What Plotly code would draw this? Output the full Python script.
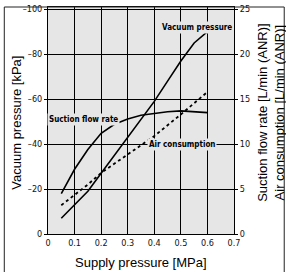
import plotly.graph_objects as go

# Data
supply_pressure = [0.05, 0.10, 0.15, 0.20, 0.25, 0.30, 0.35, 0.40, 0.45, 0.50, 0.55, 0.60]
vacuum_pressure = [-7, -13, -19, -27, -35, -43, -51, -59, -68, -77, -85, -90]
suction_flow = [4.5, 7.2, 9.4, 11.2, 12.2, 12.8, 13.2, 13.4, 13.6, 13.7, 13.6, 13.5]
air_supply = [0.05, 0.10, 0.15, 0.20, 0.30, 0.40, 0.50, 0.60]
air_consumption = [3.2, 4.3, 5.5, 6.8, 8.8, 10.9, 13.3, 15.8]

x_ticks = [0, 0.1, 0.2, 0.3, 0.4, 0.5, 0.6, 0.7]
x_ticklabels = ["0", "0.1", "0.2", "0.3", "0.4", "0.5", "0.6", "0.7"]
y_ticks = [0, -20, -40, -60, -80, -100]
y_ticklabels = ["0", "–20", "–40", "–60", "–80", "–100"]
y2_ticks = [0, 5, 10, 15, 20, 25]

NARROW = "Liberation Sans Narrow, DejaVu Sans Condensed, Arial Narrow, sans-serif"
REGULAR = "Liberation Sans, Arial, sans-serif"
PLOT_BG = "#e6e6e6"

fig = go.Figure()
fig.add_trace(go.Scatter(x=supply_pressure, y=vacuum_pressure, mode="lines",
                         line=dict(color="black", width=1.6), yaxis="y",
                         name="Vacuum pressure", showlegend=False))
fig.add_trace(go.Scatter(x=supply_pressure, y=suction_flow, mode="lines",
                         line=dict(color="black", width=1.6), yaxis="y2",
                         name="Suction flow rate", showlegend=False))
fig.add_trace(go.Scatter(x=air_supply, y=air_consumption, mode="lines",
                         line=dict(color="black", width=1.8, dash="dot"), yaxis="y2",
                         name="Air consumption", showlegend=False))

TICKFONT = dict(family=NARROW, size=9, color="#111")

fig.update_layout(
    width=286, height=272, autosize=False,
    margin=dict(l=48, r=52, t=4, b=38, pad=0),
    paper_bgcolor="white", plot_bgcolor=PLOT_BG,
    font=dict(family=NARROW, size=9, color="#111"),
    xaxis=dict(range=[0, 0.7], tickvals=x_ticks, ticktext=x_ticklabels,
               showgrid=True, gridcolor="black", gridwidth=1,
               showline=True, linecolor="black", linewidth=1, mirror=True,
               ticks="", zeroline=False, tickfont=TICKFONT),
    yaxis=dict(range=[0, -101], tickvals=y_ticks, ticktext=y_ticklabels,
               showgrid=True, gridcolor="black", gridwidth=1,
               showline=True, linecolor="black", linewidth=1, mirror=True,
               ticks="outside", ticklen=3, tickcolor="black",
               zeroline=False, tickfont=TICKFONT),
    yaxis2=dict(range=[0, 25.25], tickvals=y2_ticks, overlaying="y", side="right",
                showgrid=False, showline=False, zeroline=False,
                ticks="outside", ticklen=3, tickcolor="black",
                tickfont=TICKFONT),
)

LABELFONT = dict(family=NARROW, size=8, color="black", weight="bold")
annotations = [
    dict(text="Vacuum pressure", x=0.56, y=-91.7, xref="x", yref="y",
         font=LABELFONT, showarrow=False, bgcolor=PLOT_BG, borderpad=1),
    dict(text="Suction flow rate", x=0.132, y=-50.9, xref="x", yref="y",
         font=LABELFONT, showarrow=False, bgcolor=PLOT_BG, borderpad=1),
    dict(text="Air consumption", x=0.504, y=-40, xref="x", yref="y",
         font=LABELFONT, showarrow=False, bgcolor=PLOT_BG, borderpad=1),
    dict(text="Supply pressure [MPa]", x=0.5, y=-0.125, xref="paper", yref="paper",
         xanchor="center", yanchor="middle",
         font=dict(family=REGULAR, size=13, color="black"), showarrow=False),
    dict(text="Vacuum pressure [kPa]", x=-0.167, y=0.49, xref="paper", yref="paper",
         xanchor="center", yanchor="middle", textangle=-90,
         font=dict(family=REGULAR, size=13, color="black"), showarrow=False),
    dict(text="Suction flow rate [L/min (ANR)]<br>Air consumption [L/min (ANR)]",
         x=1.195, y=0.535, xref="paper", yref="paper", textangle=-90,
         xanchor="center", yanchor="middle",
         font=dict(family=REGULAR, size=13, color="black"), showarrow=False),
]
fig.update_layout(annotations=annotations)

fig.add_shape(type="rect", xref="paper", yref="paper",
              x0=-0.235, x1=1.27, y0=-0.3, y1=1.0,
              line=dict(color="#222", width=1), fillcolor="rgba(0,0,0,0)",
              layer="above")

fig.write_html("out.html", config={"displayModeBar": False},
               post_script="document.body.style.margin='0';document.body.style.padding='0';")
